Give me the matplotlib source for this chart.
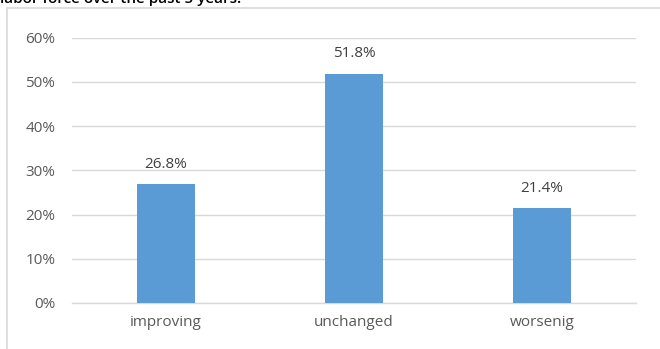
import matplotlib.pyplot as plt
import matplotlib.patches as patches
import numpy as np

# -- Data --
categories = ["improving", "unchanged", "worsenig"]
shares = [0.268, 0.518, 0.214]
y_ticks = [0, 0.1, 0.2, 0.3, 0.4, 0.5, 0.6]

plt.rcParams['font.family'] = ['Open Sans', 'DejaVu Sans']

W, H = 660, 349
fig = plt.figure(figsize=(W / 100, H / 100), dpi=100)

# -- Chart frame (extends past the bottom and right edges) --
frame = patches.Rectangle((7 / W, -0.1), 1.1, 1 - 8.5 / H + 0.1, transform=fig.transFigure,
                          fill=False, edgecolor="#d9d9d9", linewidth=1.2)
fig.patches.append(frame)

# -- Cut-off title line above the chart --
fig.text(0.0, 1 - 3.5 / H, "labor force over the past 5 years.", fontsize=11,
         fontweight="semibold", color="black", va="baseline", ha="left")

ax = fig.add_axes([72 / W, 1 - 303 / H, (636 - 72) / W, (303 - 37.5) / H])
x = np.arange(len(categories))
bars = ax.bar(x, shares, width=0.31, color="#5b9bd5", zorder=3)

for xi, v in zip(x, shares):
    ax.text(xi, v + 0.028, f"{v * 100:.1f}%", ha="center", va="bottom",
            fontsize=11, color="#404040")

ax.set_xlim(-0.5, len(categories) - 0.5)
ax.set_ylim(0, 0.6)
ax.set_yticks(y_ticks)
ax.set_yticklabels([f"{int(round(t * 100))}%" for t in y_ticks])
ax.set_xticks(x)
ax.set_xticklabels(categories)
ax.tick_params(axis="both", length=0, labelsize=11, colors="#595959")
ax.tick_params(axis="y", pad=12)
ax.tick_params(axis="x", pad=9)
ax.grid(axis="y", color="#d9d9d9", linewidth=1, zorder=0)
for side in ["top", "right", "left"]:
    ax.spines[side].set_visible(False)
ax.spines["bottom"].set_color("#d9d9d9")
ax.spines["bottom"].set_linewidth(1)

fig.savefig("out.png", dpi=100)
